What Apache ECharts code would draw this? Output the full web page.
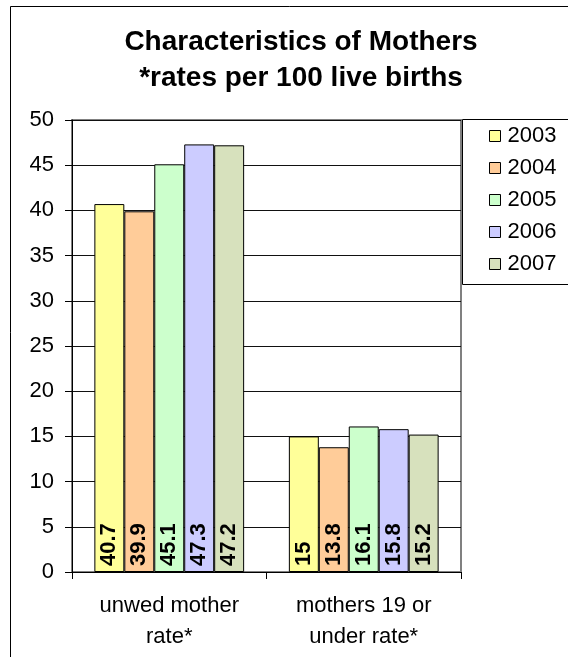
<!DOCTYPE html>
<html>
<head>
<meta charset="utf-8">
<script src="https://cdn.jsdelivr.net/npm/echarts@6/dist/echarts.min.js"></script>
<style>
html,body{margin:0;padding:0;background:#fff;}
#chart{width:568px;height:657px;}
</style>
</head>
<body>
<div id="chart"></div>
<script>
const categories = ['unwed mother\nrate*', 'mothers 19 or\nunder rate*'];
const years = ['2003', '2004', '2005', '2006', '2007'];
const values2003 = [40.7, 15];
const values2004 = [39.9, 13.8];
const values2005 = [45.1, 16.1];
const values2006 = [47.3, 15.8];
const values2007 = [47.2, 15.2];
const yTicks = [0, 5, 10, 15, 20, 25, 30, 35, 40, 45, 50];
const colors = ['#FFFF99', '#FFCC99', '#CCFFCC', '#CCCCFF', '#D7E1BD'];

const seriesValues = [values2003, values2004, values2005, values2006, values2007];
const FONT = '"Liberation Sans", Arial, sans-serif';

const chart = echarts.init(document.getElementById('chart'));
chart.setOption({
  animation: false,
  backgroundColor: '#fff',
  color: colors,
  textStyle: { fontFamily: FONT, color: '#000' },
  title: {
    text: 'Characteristics of Mothers\n*rates per 100 live births',
    left: 301,
    top: 24,
    padding: 0,
    textAlign: 'center',
    textStyle: { fontFamily: FONT, fontSize: 28, fontWeight: 'bold', color: '#000', lineHeight: 36 }
  },
  graphic: [
    { type: 'rect', z: -10, shape: { x: 10.5, y: 6.5, width: 700, height: 800 }, style: { fill: 'none', stroke: '#000', lineWidth: 1 } },
    { type: 'rect', z: 10, shape: { x: 462.5, y: 119.5, width: 200, height: 165 }, style: { fill: '#fff', stroke: '#000', lineWidth: 1 } }
  ],
  legend: {
    orient: 'vertical',
    left: 489,
    top: 125,
    padding: 0,
    z: 20,
    itemWidth: 11,
    itemHeight: 11,
    itemGap: 10,
    icon: 'rect',
    data: years,
    itemStyle: { borderColor: '#000', borderWidth: 1 },
    textStyle: { fontFamily: FONT, fontSize: 22, lineHeight: 22, color: '#000', padding: [0, 0, 0, 2] }
  },
  grid: {
    left: 72, right: 107, top: 120, bottom: 85,
    show: true, borderColor: '#808080', borderWidth: 2, backgroundColor: 'transparent'
  },
  xAxis: {
    type: 'category',
    data: categories,
    axisLine: { lineStyle: { color: '#000', width: 1 } },
    axisTick: { show: true, length: 7, lineStyle: { color: '#000' } },
    axisLabel: { fontFamily: FONT, fontSize: 22, lineHeight: 31, color: '#000', margin: 18 }
  },
  yAxis: {
    type: 'value',
    min: yTicks[0],
    max: yTicks[yTicks.length - 1],
    interval: 5,
    axisLine: { show: true, lineStyle: { color: '#000', width: 1 } },
    axisTick: { show: true, length: 7, lineStyle: { color: '#000' } },
    axisLabel: { fontFamily: FONT, fontSize: 22, color: '#000', margin: 18 },
    splitLine: { show: true, lineStyle: { color: '#111', width: 1 } }
  },
  series: years.map((y, i) => ({
    name: y,
    type: 'bar',
    data: seriesValues[i],
    barGap: '0%',
    barCategoryGap: '23%',
    itemStyle: { color: colors[i], borderColor: '#000', borderWidth: 1 },
    label: {
      show: true,
      position: 'insideBottom',
      rotate: 90,
      align: 'left',
      verticalAlign: 'middle',
      distance: 6,
      fontFamily: FONT,
      fontSize: 22,
      fontWeight: 'bold',
      color: '#000'
    }
  }))
});
</script>
</body>
</html>
